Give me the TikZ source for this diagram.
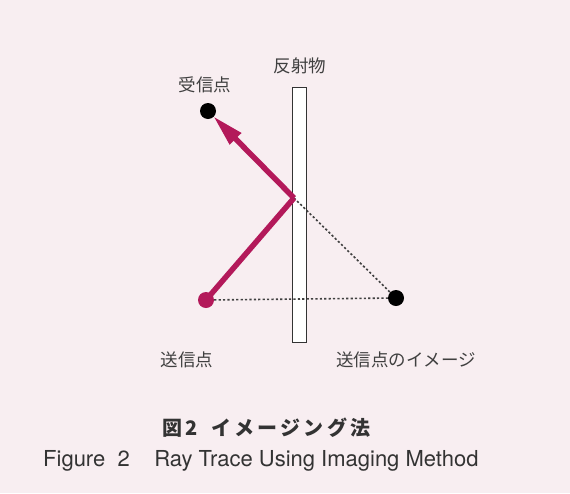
\documentclass[tikz,border=0pt]{standalone}
\usepackage{fontspec}
\setmainfont{TeX Gyre Heros}
\newfontfamily\jp{Noto Sans CJK JP}
\newfontfamily\jpwide[LetterSpace=16]{Noto Sans CJK JP}
\usetikzlibrary{arrows.meta}
\definecolor{bg}{HTML}{F8EEF1}
\definecolor{ray}{HTML}{B3195A}
\tikzset{
  lbl/.style={font=\jp\fontsize{17.5}{17.5}\selectfont, text=black!75, inner sep=0pt},
  dot/.style={circle, fill=black, minimum size=16pt, inner sep=0pt},
  dots/.style={dash pattern=on 2.2pt off 2.2pt, line width=1.6pt, black!75},
  raypath/.style={ray, line width=5.5pt, line join=miter},
}
\begin{document}
\begin{tikzpicture}[x=1pt,y=-1pt]
\fill[bg] (0,0) rectangle (570,493);
\useasboundingbox (0,0) rectangle (570,493);
% reflector
\node[draw=black!80, fill=white, line width=0.8pt, minimum width=14pt, minimum height=255pt, inner sep=0pt] (refl) at (299,214.5) {};
\coordinate (R) at (294,198);
\node[dot] (rx) at (208,111) {};
\node[dot, fill=ray] (tx) at (206,300) {};
\node[dot] (img) at (396,298) {};
% dotted lines
\draw[dots] (R) -- (img);
\draw[dots] (tx) -- (img);
% ray
\draw[raypath] (tx.center) -- (R);
\draw[raypath, -{Triangle[length=32pt,width=15pt]}, shorten >=-1pt] (R) -- (rx.south east);
% labels
\node[lbl] (lrefl) at (300,66) {反射物};
\node[lbl] (lrx) at (205,85) {受信点};
\node[lbl] (ltx) at (187,360) {送信点};
\node[lbl] (limg) at (406,360) {送信点のイメージ};
\node[font=\fontsize{20}{20}\selectfont\bfseries, text=black!80, inner sep=0pt, anchor=west] (cap1) at (162,428) {\jp 図\,2\ \ \ \jpwide イメージング法};
\node[font=\fontsize{22}{22}\selectfont, text=black!80, inner sep=0pt, anchor=west] (cap2) at (43,461) {Figure\ \ 2\ \ \ \ Ray Trace Using Imaging Method};
\end{tikzpicture}
\end{document}
